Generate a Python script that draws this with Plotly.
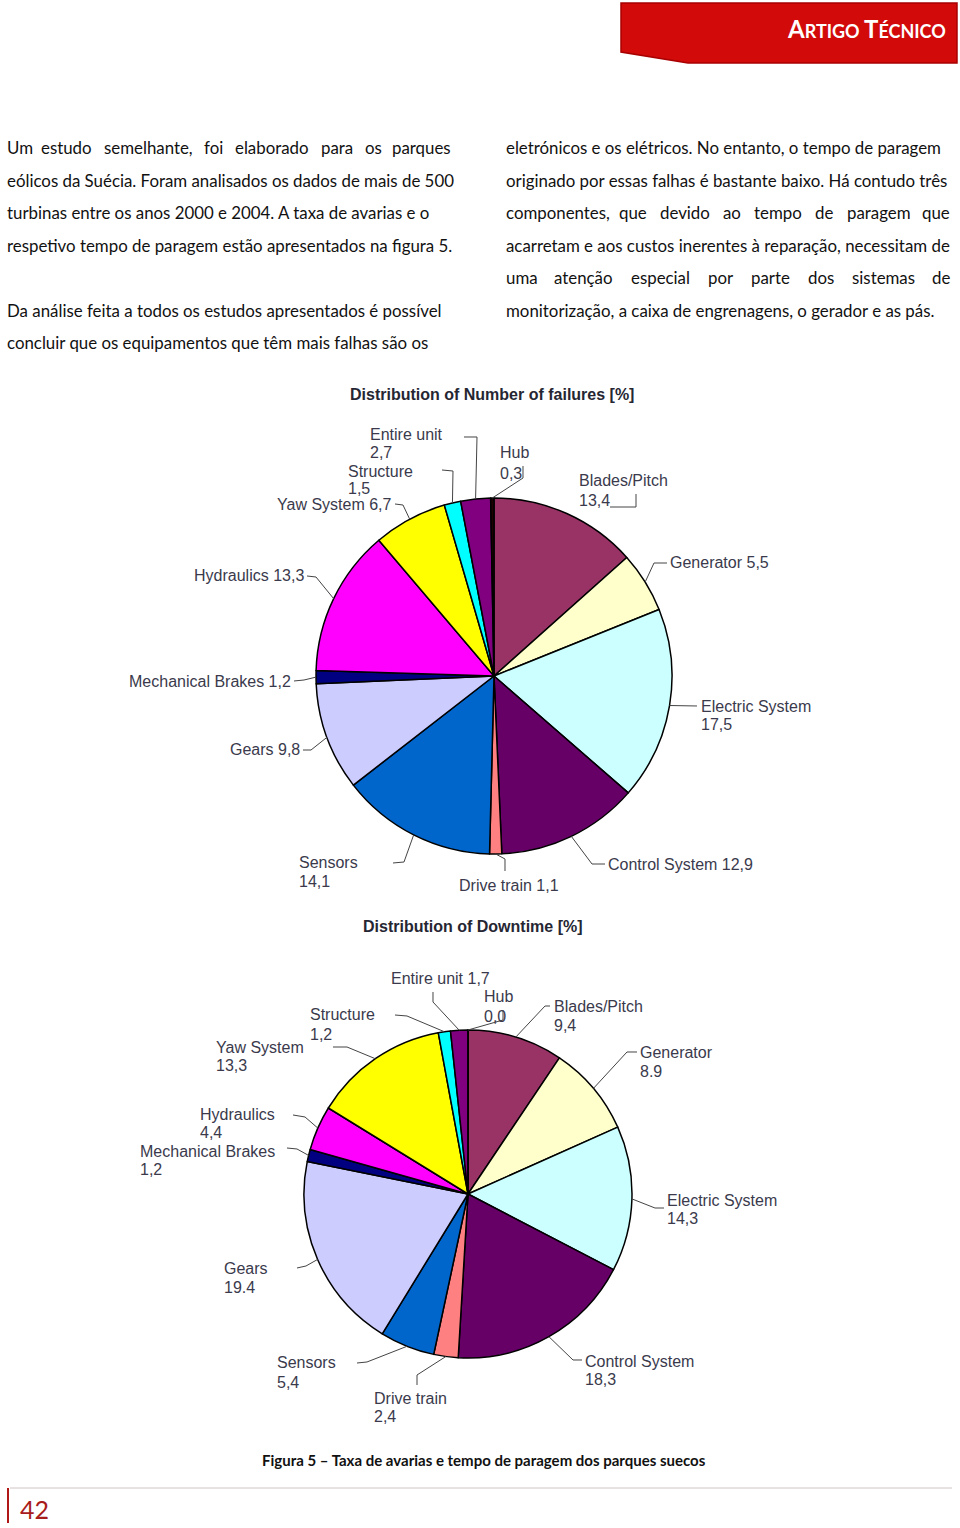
import math
import plotly.graph_objects as go

W, H = 960, 1528

# ---------------- data ----------------
categories = ["Blades/Pitch", "Generator", "Electric System", "Control System",
              "Drive train", "Sensors", "Gears", "Mechanical Brakes", "Hydraulics",
              "Yaw System", "Structure", "Entire unit", "Hub"]
failures_pct = [13.4, 5.5, 17.5, 12.9, 1.1, 14.1, 9.8, 1.2, 13.3, 6.7, 1.5, 2.7, 0.3]
downtime_pct = [9.4, 8.9, 14.3, 18.3, 2.4, 5.4, 19.4, 1.2, 4.4, 13.3, 1.2, 1.7, 0.0]
chart_titles = ["Distribution of Number of failures [%]", "Distribution of Downtime [%]"]
caption = "Figura 5 – Taxa de avarias e tempo de paragem dos parques suecos"
header_text = ("A", "RTIGO ", "T", "ÉCNICO")
page_number = "42"
left_col = [
    ("Um estudo semelhante, foi elaborado para os parques", True),
    ("eólicos da Suécia. Foram analisados os dados de mais de 500", True),
    ("turbinas entre os anos 2000 e 2004. A taxa de avarias e o", True),
    ("respetivo tempo de paragem estão apresentados na figura 5.", False),
    ("", False),
    ("Da análise feita a todos os estudos apresentados é possível", True),
    ("concluir que os equipamentos que têm mais falhas são os", False),
]
right_col = [
    ("eletrónicos e os elétricos. No entanto, o tempo de paragem", True),
    ("originado por essas falhas é bastante baixo. Há contudo três", True),
    ("componentes, que devido ao tempo de paragem que", True),
    ("acarretam e aos custos inerentes à reparação, necessitam de", True),
    ("uma atenção especial por parte dos sistemas de", True),
    ("monitorização, a caixa de engrenagens, o gerador e as pás.", False),
]

# ---------------- style ----------------
slice_colors = ["#993366", "#FFFFCC", "#CCFFFF", "#660066", "#FF8080", "#0066CC",
                "#CCCCFF", "#000080", "#FF00FF", "#FFFF00", "#00FFFF", "#800080", "#200000"]
LABEL_FONT = dict(family="Liberation Sans, Arial, sans-serif", size=16, color="#3a3a4c")
BODY_FONT = dict(family="Lato, Open Sans, sans-serif", size=16.85, color="#111111")


def px(x):
    return x / W


def py(y):
    return 1 - y / H


# pie geometry (pixels): center x, center y, radius
pies = [
    dict(values=failures_pct, cx=494, cy=676, r=178, title=chart_titles[0], title_xy=(492, 394)),
    dict(values=downtime_pct, cx=468, cy=1194, r=164, title=chart_titles[1], title_xy=(473, 926)),
]

# label layout: x, anchor, line y's, inline?, leader points, connect to edge?, decimal sep
label_layout = [
    {
        "Entire unit": dict(x=368, a="left", ys=[435, 453], inline=False, pts=[(464, 437), (477, 437)]),
        "Structure": dict(x=346, a="left", ys=[471, 488], inline=False, pts=[(442, 470), (453, 471)]),
        "Hub": dict(x=498, a="left", ys=[453, 474], inline=False, pts=[(523, 466), (523, 478)]),
        "Blades/Pitch": dict(x=577, a="left", ys=[480, 500], inline=False,
                             pts=[(610, 507), (636, 507), (636, 494)], edge=False),
        "Generator": dict(x=668, a="left", ys=[562], inline=True, pts=[(667, 563), (654, 563)]),
        "Electric System": dict(x=699, a="left", ys=[706, 725], inline=False, pts=[(697, 706)]),
        "Control System": dict(x=606, a="left", ys=[864], inline=True, pts=[(605, 864), (592, 864)]),
        "Drive train": dict(x=457, a="left", ys=[885], inline=True, pts=[(505, 871), (505, 859)]),
        "Sensors": dict(x=297, a="left", ys=[862, 881], inline=False, pts=[(393, 863), (404, 862)]),
        "Gears": dict(x=302, a="right", ys=[750], inline=True, pts=[(303, 750), (311, 750)]),
        "Mechanical Brakes": dict(x=293, a="right", ys=[681], inline=True, pts=[(294, 681), (304, 680)]),
        "Hydraulics": dict(x=306, a="right", ys=[576], inline=True, pts=[(307, 576), (316, 577)]),
        "Yaw System": dict(x=394, a="right", ys=[505], inline=True, pts=[(395, 504), (403, 505)]),
    },
    {
        "Entire unit": dict(x=389, a="left", ys=[979], inline=True, pts=[(433, 992), (433, 1002)]),
        "Hub": dict(x=482, a="left", ys=[996, 1016], inline=False, pts=[(503, 1010), (503, 1020)]),
        "Blades/Pitch": dict(x=552, a="left", ys=[1006, 1025], inline=False, pts=[(550, 1006), (545, 1006)]),
        "Generator": dict(x=638, a="left", ys=[1052, 1071], inline=False, pts=[(637, 1052), (627, 1052)],
                          sep="."),
        "Electric System": dict(x=665, a="left", ys=[1200, 1218], inline=False,
                                pts=[(664, 1208), (655, 1208)]),
        "Control System": dict(x=583, a="left", ys=[1361, 1379], inline=False,
                               pts=[(582, 1360), (573, 1360)]),
        "Drive train": dict(x=372, a="left", ys=[1398, 1416], inline=False, pts=[(417, 1385), (417, 1375)]),
        "Sensors": dict(x=275, a="left", ys=[1362, 1382], inline=False, pts=[(357, 1363), (367, 1362)]),
        "Gears": dict(x=222, a="left", ys=[1268, 1287], inline=False, pts=[(297, 1268), (306, 1266)],
                      sep="."),
        "Mechanical Brakes": dict(x=138, a="left", ys=[1151, 1169], inline=False,
                                  pts=[(287, 1148), (297, 1149)]),
        "Hydraulics": dict(x=198, a="left", ys=[1114, 1132], inline=False, pts=[(293, 1115), (305, 1117)]),
        "Yaw System": dict(x=214, a="left", ys=[1047, 1065], inline=False, pts=[(333, 1047), (347, 1047)]),
        "Structure": dict(x=308, a="left", ys=[1015, 1034], inline=False, pts=[(395, 1015), (407, 1016)]),
    },
]

fig = go.Figure()
annotations = []
shapes = []

for pie, lay in zip(pies, label_layout):
    cx, cy, r = pie["cx"], pie["cy"], pie["r"]
    vals = pie["values"]
    fig.add_trace(go.Pie(
        labels=categories, values=vals, sort=False, direction="clockwise", rotation=0,
        marker=dict(colors=slice_colors, line=dict(color="#000000", width=1.5)),
        textinfo="none", hoverinfo="label+value", showlegend=False,
        domain=dict(x=[px(cx - r), px(cx + r)], y=[py(cy + r), py(cy - r)]),
    ))
    # title
    tx, ty = pie["title_xy"]
    annotations.append(dict(x=px(tx), y=py(ty), xref="paper", yref="paper", showarrow=False,
                            text="<b>" + pie["title"] + "</b>", xanchor="center", yanchor="middle",
                            font=dict(family="Liberation Sans, Arial, sans-serif", size=16,
                                      color="#262633")))
    total = sum(vals)
    cum = 0.0
    for name, v in zip(categories, vals):
        mid = 2 * math.pi * (cum + v / 2) / total
        cum += v
        spec = lay[name]
        ex, ey = cx + r * math.sin(mid), cy - r * math.cos(mid)
        sep = spec.get("sep", ",")
        vtxt = f"{v:.1f}".replace(".", sep)
        lines = [f"{name} {vtxt}"] if spec["inline"] else [name, vtxt]
        for t, yy in zip(lines, spec["ys"]):
            annotations.append(dict(x=px(spec["x"]), y=py(yy), xref="paper", yref="paper",
                                    showarrow=False, text=t, xanchor=spec["a"], yanchor="middle",
                                    font=LABEL_FONT))
        pts = list(spec["pts"])
        if spec.get("edge", True):
            pts.append((ex, ey))
        path = "M " + " L ".join(f"{px(a):.5f},{py(b):.5f}" for a, b in pts)
        shapes.append(dict(type="path", xref="paper", yref="paper", path=path,
                           line=dict(color="#444444", width=1)))

# ---------------- body text ----------------
CW = {}
for ch in "abcdeghnopqu":
    CW[ch] = 0.55
CW.update({"c": 0.46, "e": 0.53, "a": 0.51, "f": 0.31, "i": 0.23, "j": 0.23, "l": 0.23, "k": 0.48,
           "m": 0.83, "r": 0.35, "s": 0.42, "t": 0.34, "v": 0.49, "w": 0.74, "x": 0.47, "y": 0.49,
           "z": 0.43, ".": 0.2, ",": 0.2, " ": 0.2})
ACC = {"á": "a", "à": "a", "ã": "a", "â": "a", "é": "e", "ê": "e", "í": "i", "ó": "o", "õ": "o",
       "ç": "c", "ú": "u"}


def word_w(wd, size):
    s = 0
    for ch in wd:
        ch2 = ACC.get(ch, ch)
        if ch2 in CW:
            s += CW[ch2]
        elif ch2.isdigit():
            s += 0.51
        elif ch2.isupper():
            s += 0.62
        else:
            s += 0.5
    return s * size


def place_column(lines, x0, x1, y0, dy):
    for i, (txt, just) in enumerate(lines):
        if not txt:
            continue
        y = y0 + i * dy
        words = txt.split(" ")
        ws = [word_w(w, BODY_FONT["size"]) for w in words]
        gap = ((x1 - x0) - sum(ws)) / max(len(words) - 1, 1)
        if just and gap > 9.0:
            pos = x0
            for j, (wd, wv) in enumerate(zip(words, ws)):
                if j == 0:
                    xa, xx = "left", x0
                elif j == len(words) - 1:
                    xa, xx = "right", x1
                else:
                    xa, xx = "center", pos + wv / 2
                annotations.append(dict(x=px(xx), y=py(y), xref="paper", yref="paper",
                                        showarrow=False, text=wd, xanchor=xa, yanchor="middle",
                                        font=BODY_FONT))
                pos += wv + gap
        else:
            annotations.append(dict(x=px(x0), y=py(y), xref="paper", yref="paper", showarrow=False,
                                    text=txt, xanchor="left", yanchor="middle", font=BODY_FONT))


place_column(left_col, 5, 453, 148, 32.4)
place_column(right_col, 504, 952, 148, 32.4)

# ---------------- header banner ----------------
shapes.append(dict(type="path", xref="paper", yref="paper",
                   path=f"M {px(621)},{py(3)} L {px(957)},{py(3)} L {px(957)},{py(63)} "
                        f"L {px(688)},{py(63)} L {px(621)},{py(52)} Z",
                   fillcolor="#D20A0A", line=dict(color="#A80000", width=1.5)))
ht = (f"<b><span style='font-size:24px'>{header_text[0]}</span>{header_text[1]}"
      f"<span style='font-size:24px'>{header_text[2]}</span>{header_text[3]}</b>")
annotations.append(dict(x=px(948), y=py(29), xref="paper", yref="paper", showarrow=False, text=ht,
                        xanchor="right", yanchor="middle",
                        font=dict(family="Lato, Open Sans, sans-serif", size=18, color="#FFFFFF")))

# ---------------- caption & footer ----------------
annotations.append(dict(x=px(484), y=py(1460), xref="paper", yref="paper", showarrow=False,
                        text="<b>" + caption + "</b>", xanchor="center", yanchor="middle",
                        font=dict(family="Lato, Open Sans, sans-serif", size=15, color="#111111")))
shapes.append(dict(type="line", xref="paper", yref="paper", x0=px(10), x1=px(952), y0=py(1488),
                   y1=py(1488), line=dict(color="#D2C4C4", width=1)))
shapes.append(dict(type="line", xref="paper", yref="paper", x0=px(8), x1=px(8), y0=py(1488),
                   y1=py(1523), line=dict(color="#B01818", width=2)))
annotations.append(dict(x=px(18), y=py(1509), xref="paper", yref="paper", showarrow=False,
                        text=page_number, xanchor="left", yanchor="middle",
                        font=dict(family="Lato, Open Sans, sans-serif", size=25, color="#A81C1C")))

fig.update_layout(
    width=W, height=H, margin=dict(l=0, r=0, t=0, b=0, pad=0),
    paper_bgcolor="#FFFFFF", plot_bgcolor="#FFFFFF",
    annotations=annotations, shapes=shapes, showlegend=False,
)

fig.write_html("out.html")
